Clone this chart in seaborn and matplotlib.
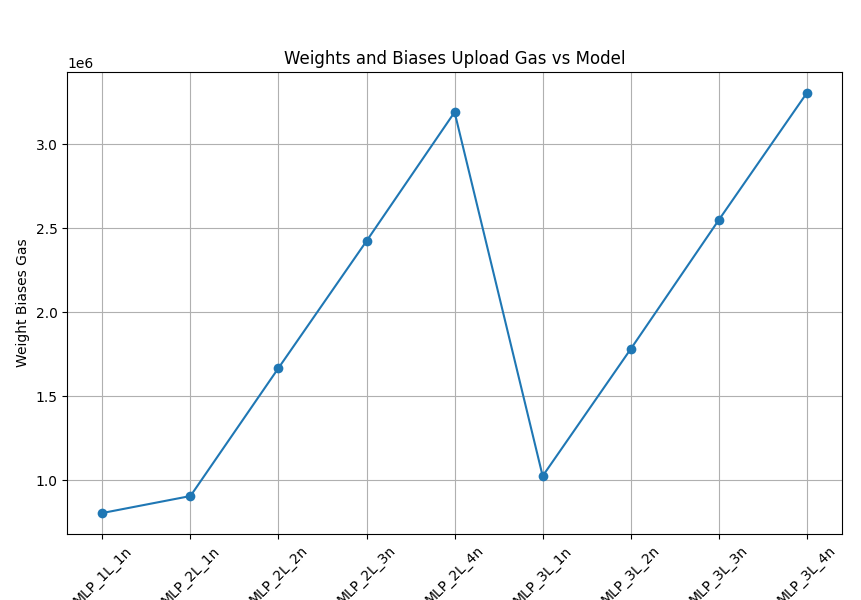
import matplotlib
matplotlib.use("Agg")
import matplotlib.pyplot as plt
import seaborn as sns
import pandas as pd

# model names and upload gas
models = ["MLP_1L_1n", "MLP_2L_1n", "MLP_2L_2n", "MLP_2L_3n", "MLP_2L_4n",
          "MLP_3L_1n", "MLP_3L_2n", "MLP_3L_3n", "MLP_3L_4n"]
gas = [0.804e6, 0.905e6, 1.667e6, 2.423e6, 3.190e6,
       1.024e6, 1.780e6, 2.548e6, 3.304e6]

def main():
	df = pd.DataFrame({"model": models, "gas": gas})

	fig, ax = plt.subplots(figsize=(8.61, 6.0), dpi=100)
	fig.subplots_adjust(left=0.078, right=0.978, bottom=0.11, top=0.88)

	sns.lineplot(data=df, x="model", y="gas", marker="o", markersize=7,
				 markeredgewidth=0, color="#1f77b4", sort=False, ax=ax)

	ax.set_title("Weights and Biases Upload Gas vs Model")
	ax.set_xlabel("")
	ax.set_ylabel("Weight Biases Gas")
	ax.grid(True, color="#b0b0b0", linewidth=0.8)
	plt.xticks(rotation=45)

	fig.savefig("out.png", dpi=100)

if __name__ == "__main__":
	main()
